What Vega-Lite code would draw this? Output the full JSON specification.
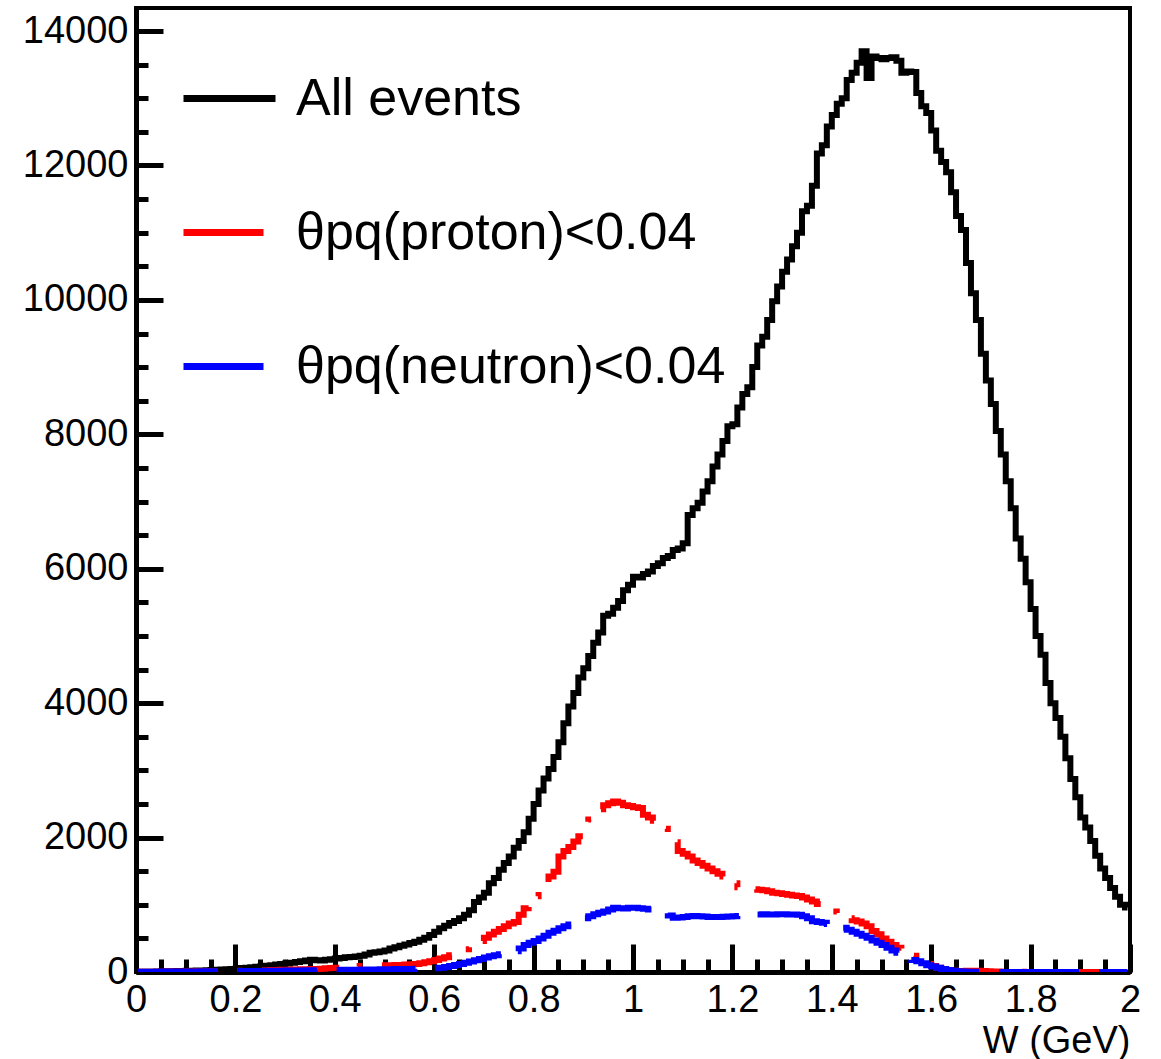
{
  "$schema": "https://vega.github.io/schema/vega-lite/v6.json",
  "width": 994,
  "height": 964,
  "autosize": {"type": "none"},
  "padding": {"left": 136, "top": 8, "right": 31, "bottom": 87},
  "background": "white",
  "config": {
    "view": {"stroke": "black", "strokeWidth": 4},
    "font": "Liberation Sans"
  },
  "data": {"values": [
    {"w":0.005,"a":0,"p":2,"n":3},{"w":0.015,"a":2,"p":3,"n":4},{"w":0.025,"a":3,"p":3,"n":4},{"w":0.035,"a":5,"p":4,"n":5},{"w":0.045,"a":6,"p":5,"n":5},
    {"w":0.055,"a":8,"p":5,"n":6},{"w":0.065,"a":10,"p":6,"n":6},{"w":0.075,"a":12,"p":6,"n":7},{"w":0.085,"a":14,"p":7,"n":7},{"w":0.095,"a":16,"p":8,"n":8},
    {"w":0.105,"a":18,"p":8,"n":8},{"w":0.115,"a":20,"p":9,"n":9},{"w":0.125,"a":22,"p":10,"n":9},{"w":0.135,"a":24,"p":10,"n":10},{"w":0.145,"a":27,"p":11,"n":10},
    {"w":0.155,"a":30,"p":12,"n":11},{"w":0.165,"a":33,"p":13,"n":11},{"w":0.175,"a":36,"p":14,"n":12},{"w":0.185,"a":40,"p":15,"n":12},{"w":0.195,"a":44,"p":16,"n":13},
    {"w":0.205,"a":50,"p":17,"n":13},{"w":0.215,"a":58,"p":18,"n":14},{"w":0.225,"a":64,"p":19,"n":14},{"w":0.235,"a":70,"p":20,"n":15},{"w":0.245,"a":78,"p":22,"n":15},
    {"w":0.255,"a":85,"p":24,"n":16},{"w":0.265,"a":92,"p":26,"n":17},{"w":0.275,"a":100,"p":28,"n":18},{"w":0.285,"a":110,"p":30,"n":19},{"w":0.295,"a":118,"p":32,"n":20},
    {"w":0.305,"a":128,"p":34,"n":21},{"w":0.315,"a":138,"p":36,"n":22},{"w":0.325,"a":150,"p":38,"n":23},{"w":0.335,"a":160,"p":40,"n":24},{"w":0.345,"a":172,"p":42,"n":25},
    {"w":0.355,"a":182,"p":44,"n":26},{"w":0.365,"a":176,"p":46,"n":27},{"w":0.375,"a":170,"p":50,"n":28},{"w":0.385,"a":182,"p":55,"n":29},{"w":0.395,"a":190,"p":60,"n":30},
    {"w":0.405,"a":200,"p":65,"n":31},{"w":0.415,"a":210,"p":70,"n":32},{"w":0.425,"a":218,"p":75,"n":33},{"w":0.435,"a":224,"p":80,"n":34},{"w":0.445,"a":232,"p":85,"n":35},
    {"w":0.455,"a":240,"p":90,"n":36},{"w":0.465,"a":262,"p":92,"n":37},{"w":0.475,"a":285,"p":95,"n":38},{"w":0.485,"a":295,"p":98,"n":39},{"w":0.495,"a":305,"p":100,"n":40},
    {"w":0.505,"a":320,"p":100,"n":41},{"w":0.515,"a":350,"p":102,"n":42},{"w":0.525,"a":370,"p":104,"n":43},{"w":0.535,"a":390,"p":106,"n":44},{"w":0.545,"a":410,"p":110,"n":45},
    {"w":0.555,"a":430,"p":115,"n":46},{"w":0.565,"a":450,"p":120,"n":47},{"w":0.575,"a":480,"p":130,"n":48},{"w":0.585,"a":510,"p":146,"n":49},{"w":0.595,"a":550,"p":160,"n":50},
    {"w":0.605,"a":600,"p":180,"n":55},{"w":0.615,"a":650,"p":200,"n":62},{"w":0.625,"a":690,"p":220,"n":75},{"w":0.635,"a":730,"p":250,"n":90},{"w":0.645,"a":760,"p":280,"n":105},
    {"w":0.655,"a":800,"p":310,"n":120},{"w":0.665,"a":850,"p":340,"n":137},{"w":0.675,"a":920,"p":380,"n":155},{"w":0.685,"a":1040,"p":410,"n":175},{"w":0.695,"a":1110,"p":460,"n":195},
    {"w":0.705,"a":1180,"p":510,"n":215},{"w":0.715,"a":1320,"p":558,"n":235},{"w":0.725,"a":1400,"p":600,"n":250},{"w":0.735,"a":1520,"p":640,"n":265},{"w":0.745,"a":1620,"p":680,"n":280},
    {"w":0.755,"a":1720,"p":720,"n":295},{"w":0.765,"a":1850,"p":745,"n":310},{"w":0.775,"a":1950,"p":850,"n":350},{"w":0.785,"a":2080,"p":950,"n":400},{"w":0.795,"a":2280,"p":1050,"n":434},
    {"w":0.805,"a":2500,"p":1127,"n":460},{"w":0.815,"a":2700,"p":1230,"n":500},{"w":0.825,"a":2880,"p":1330,"n":540},{"w":0.835,"a":3020,"p":1420,"n":583},{"w":0.845,"a":3200,"p":1490,"n":615},
    {"w":0.855,"a":3420,"p":1720,"n":650},{"w":0.865,"a":3700,"p":1800,"n":680},{"w":0.875,"a":3950,"p":1860,"n":706},{"w":0.885,"a":4150,"p":1940,"n":740},{"w":0.895,"a":4380,"p":2020,"n":781},
    {"w":0.905,"a":4520,"p":2150,"n":800},{"w":0.915,"a":4700,"p":2270,"n":830},{"w":0.925,"a":4900,"p":2350,"n":860},{"w":0.935,"a":5050,"p":2420,"n":880},{"w":0.945,"a":5300,"p":2480,"n":900},
    {"w":0.955,"a":5330,"p":2510,"n":930},{"w":0.965,"a":5420,"p":2535,"n":955},{"w":0.975,"a":5520,"p":2520,"n":950},{"w":0.985,"a":5680,"p":2480,"n":945},{"w":0.995,"a":5760,"p":2470,"n":955},
    {"w":1.005,"a":5880,"p":2450,"n":955},{"w":1.015,"a":5870,"p":2440,"n":950},{"w":1.025,"a":5920,"p":2340,"n":940},{"w":1.035,"a":5960,"p":2300,"n":930},{"w":1.045,"a":6040,"p":2250,"n":915},
    {"w":1.055,"a":6080,"p":2200,"n":905},{"w":1.065,"a":6160,"p":2130,"n":880},{"w":1.075,"a":6190,"p":2070,"n":840},{"w":1.085,"a":6280,"p":1930,"n":806},{"w":1.095,"a":6300,"p":1800,"n":810},
    {"w":1.105,"a":6380,"p":1760,"n":820},{"w":1.115,"a":6800,"p":1720,"n":830},{"w":1.125,"a":6900,"p":1660,"n":835},{"w":1.135,"a":6980,"p":1620,"n":830},{"w":1.145,"a":7150,"p":1580,"n":825},
    {"w":1.155,"a":7300,"p":1540,"n":820},{"w":1.165,"a":7520,"p":1500,"n":820},{"w":1.175,"a":7700,"p":1460,"n":818},{"w":1.185,"a":7900,"p":1420,"n":822},{"w":1.195,"a":8120,"p":1380,"n":826},
    {"w":1.205,"a":8150,"p":1320,"n":830},{"w":1.215,"a":8400,"p":1260,"n":835},{"w":1.225,"a":8600,"p":1250,"n":840},{"w":1.235,"a":8700,"p":1240,"n":845},{"w":1.245,"a":9000,"p":1230,"n":850},
    {"w":1.255,"a":9320,"p":1225,"n":855},{"w":1.265,"a":9450,"p":1215,"n":858},{"w":1.275,"a":9700,"p":1200,"n":855},{"w":1.285,"a":9980,"p":1180,"n":855},{"w":1.295,"a":10200,"p":1170,"n":858},
    {"w":1.305,"a":10420,"p":1160,"n":860},{"w":1.315,"a":10600,"p":1150,"n":855},{"w":1.325,"a":10800,"p":1140,"n":855},{"w":1.335,"a":11000,"p":1130,"n":850},{"w":1.345,"a":11320,"p":1110,"n":830},
    {"w":1.355,"a":11400,"p":1080,"n":800},{"w":1.365,"a":11700,"p":1050,"n":756},{"w":1.375,"a":12180,"p":1010,"n":745},{"w":1.385,"a":12300,"p":960,"n":731},{"w":1.395,"a":12580,"p":940,"n":715},
    {"w":1.405,"a":12750,"p":900,"n":690},{"w":1.415,"a":12920,"p":860,"n":670},{"w":1.425,"a":13000,"p":830,"n":657},{"w":1.435,"a":13270,"p":800,"n":630},{"w":1.445,"a":13380,"p":770,"n":600},
    {"w":1.455,"a":13530,"p":750,"n":570},{"w":1.465,"a":13700,"p":720,"n":540},{"w":1.475,"a":13300,"p":680,"n":510},{"w":1.485,"a":13620,"p":610,"n":470},{"w":1.495,"a":13600,"p":560,"n":434},
    {"w":1.505,"a":13580,"p":500,"n":400},{"w":1.515,"a":13600,"p":450,"n":360},{"w":1.525,"a":13610,"p":400,"n":320},{"w":1.535,"a":13560,"p":360,"n":285},{"w":1.545,"a":13380,"p":330,"n":250},
    {"w":1.555,"a":13400,"p":290,"n":215},{"w":1.565,"a":13390,"p":240,"n":180},{"w":1.575,"a":13080,"p":200,"n":161},{"w":1.585,"a":12880,"p":160,"n":130},{"w":1.595,"a":12780,"p":120,"n":100},
    {"w":1.605,"a":12520,"p":90,"n":80},{"w":1.615,"a":12220,"p":65,"n":62},{"w":1.625,"a":12050,"p":45,"n":45},{"w":1.635,"a":11900,"p":30,"n":30},{"w":1.645,"a":11600,"p":20,"n":20},
    {"w":1.655,"a":11250,"p":15,"n":12},{"w":1.665,"a":11040,"p":12,"n":6},{"w":1.675,"a":10550,"p":20,"n":3},{"w":1.685,"a":10100,"p":20,"n":2},{"w":1.695,"a":9700,"p":18,"n":1},
    {"w":1.705,"a":9200,"p":15,"n":1},{"w":1.715,"a":8800,"p":10,"n":1},{"w":1.725,"a":8450,"p":8,"n":1},{"w":1.735,"a":8050,"p":6,"n":1},{"w":1.745,"a":7700,"p":5,"n":1},
    {"w":1.755,"a":7300,"p":4,"n":1},{"w":1.765,"a":6900,"p":3,"n":1},{"w":1.775,"a":6450,"p":3,"n":1},{"w":1.785,"a":6150,"p":2,"n":1},{"w":1.795,"a":5800,"p":2,"n":0},
    {"w":1.805,"a":5400,"p":2,"n":0},{"w":1.815,"a":5000,"p":1,"n":0},{"w":1.825,"a":4720,"p":1,"n":0},{"w":1.835,"a":4300,"p":1,"n":0},{"w":1.845,"a":4000,"p":1,"n":0},
    {"w":1.855,"a":3780,"p":1,"n":0},{"w":1.865,"a":3500,"p":1,"n":0},{"w":1.875,"a":3180,"p":1,"n":0},{"w":1.885,"a":2870,"p":1,"n":0},{"w":1.895,"a":2600,"p":1,"n":0},
    {"w":1.905,"a":2300,"p":0,"n":0},{"w":1.915,"a":2150,"p":0,"n":0},{"w":1.925,"a":1950,"p":0,"n":0},{"w":1.935,"a":1730,"p":0,"n":0},{"w":1.945,"a":1540,"p":0,"n":0},
    {"w":1.955,"a":1400,"p":0,"n":0},{"w":1.965,"a":1250,"p":0,"n":0},{"w":1.975,"a":1120,"p":0,"n":0},{"w":1.985,"a":1000,"p":0,"n":0},{"w":1.995,"a":960,"p":0,"n":0}
  ]},
  "transform": [{"fold": ["a", "p", "n"], "as": ["s", "v"]}],
  "resolve": {"axis": {"x": "independent", "y": "independent"}},
  "layer": [
    {
      "mark": {"type": "line", "interpolate": "step", "strokeWidth": 6, "clip": true},
      "encoding": {
        "x": {
          "field": "w", "type": "quantitative",
          "scale": {"domain": [0, 2], "nice": false, "zero": false},
          "axis": {
            "orient": "bottom",
            "values": [0, 0.2, 0.4, 0.6, 0.8, 1, 1.2, 1.4, 1.6, 1.8, 2],
            "format": "~g",
            "grid": false,
            "domain": true, "domainColor": "black", "domainWidth": 5,
            "ticks": true, "tickSize": -28, "tickWidth": 5, "tickColor": "black",
            "labelFont": "Liberation Sans", "labelFontSize": 38, "labelColor": "black",
            "labelPadding": 37, "labelFlush": false, "labelOverlap": false,
            "title": "W (GeV)", "titleFont": "Liberation Sans", "titleFontSize": 38,
            "titleFontWeight": "normal", "titleColor": "black",
            "titleAnchor": "end", "titleAlign": "right", "titleBaseline": "alphabetic",
            "titleX": 994, "titleY": 80
          }
        },
        "y": {
          "field": "v", "type": "quantitative",
          "scale": {"domain": [0, 14343], "nice": false},
          "axis": {
            "orient": "left",
            "values": [0, 2000, 4000, 6000, 8000, 10000, 12000, 14000],
            "format": "d",
            "grid": false,
            "domain": true, "domainColor": "black", "domainWidth": 5,
            "ticks": true, "tickSize": -27, "tickWidth": 5, "tickColor": "black",
            "labelFont": "Liberation Sans", "labelFontSize": 38, "labelColor": "black",
            "labelPadding": 35, "labelFlush": false, "labelOverlap": false,
            "title": null
          }
        },
        "color": {
          "field": "s", "type": "nominal",
          "scale": {"domain": ["a", "p", "n"], "range": ["#000000", "#ff0000", "#0000ff"]},
          "legend": {
            "orient": "none", "legendX": 44, "legendY": 41,
            "title": null, "padding": 0,
            "symbolType": "stroke", "symbolSize": 8464, "symbolStrokeWidth": 7,
            "labelFont": "Liberation Sans", "labelFontSize": 52, "labelColor": "black",
            "labelOffset": 17, "labelLimit": 800, "rowPadding": 58,
            "labelExpr": "datum.label == 'a' ? 'All events' : datum.label == 'p' ? 'θpq(proton)<0.04' : 'θpq(neutron)<0.04'"
          }
        },
        "strokeDash": {
          "field": "s", "type": "nominal",
          "scale": {"domain": ["a", "p", "n"], "range": [[1, 0], [80, 20, 5, 20], [80, 20]]},
          "legend": null
        }
      }
    },
    {
      "mark": {"type": "point", "opacity": 0},
      "encoding": {
        "x": {
          "field": "w", "type": "quantitative",
          "axis": {
            "orient": "bottom",
            "values": [0.05,0.1,0.15,0.25,0.3,0.35,0.45,0.5,0.55,0.65,0.7,0.75,0.85,0.9,0.95,1.05,1.1,1.15,1.25,1.3,1.35,1.45,1.5,1.55,1.65,1.7,1.75,1.85,1.9,1.95],
            "grid": false, "domain": false, "labels": false,
            "ticks": true, "tickSize": -13, "tickWidth": 5, "tickColor": "black",
            "title": null
          }
        },
        "y": {
          "field": "v", "type": "quantitative",
          "axis": {
            "orient": "left",
            "values": [500,1000,1500,2500,3000,3500,4500,5000,5500,6500,7000,7500,8500,9000,9500,10500,11000,11500,12500,13000,13500],
            "grid": false, "domain": false, "labels": false,
            "ticks": true, "tickSize": -12, "tickWidth": 5, "tickColor": "black",
            "title": null
          }
        }
      }
    }
  ]
}
